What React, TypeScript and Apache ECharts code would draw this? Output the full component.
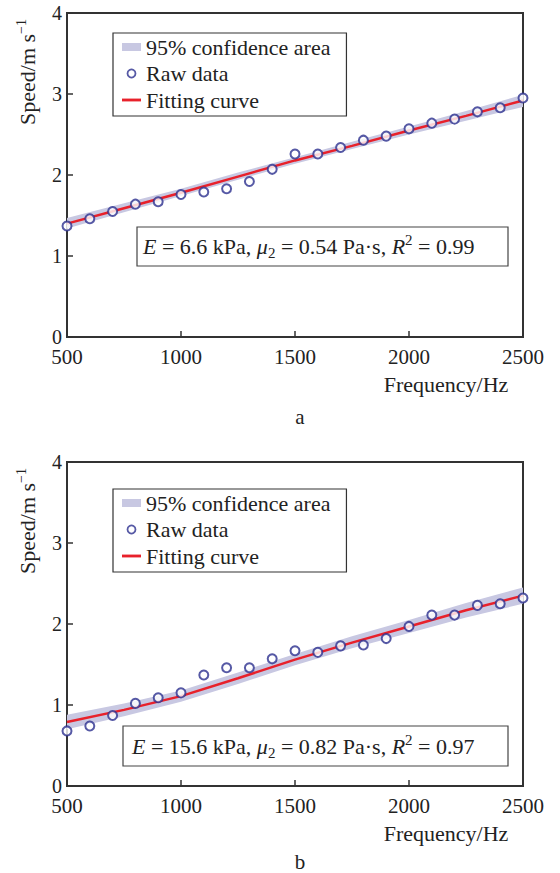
import React, { useEffect, useRef } from "react";
import * as echarts from "echarts";

// ---- data ----
const freqPoints = [500, 600, 700, 800, 900, 1000, 1100, 1200, 1300, 1400, 1500, 1600, 1700, 1800, 1900, 2000, 2100, 2200, 2300, 2400, 2500];
const rawA = [1.37, 1.46, 1.55, 1.64, 1.67, 1.76, 1.79, 1.83, 1.92, 2.07, 2.26, 2.26, 2.34, 2.43, 2.48, 2.57, 2.64, 2.69, 2.78, 2.83, 2.95];
const rawB = [0.68, 0.74, 0.87, 1.02, 1.09, 1.15, 1.37, 1.46, 1.46, 1.57, 1.67, 1.65, 1.73, 1.74, 1.82, 1.97, 2.11, 2.11, 2.23, 2.25, 2.32];

const fitFreq = [500, 750, 1000, 1250, 1500, 1750, 2000, 2250, 2500];
const fitA = [1.40, 1.59, 1.78, 1.98, 2.18, 2.36, 2.55, 2.73, 2.92];
const loA = [1.34, 1.54, 1.74, 1.94, 2.14, 2.32, 2.50, 2.67, 2.84];
const hiA = [1.47, 1.65, 1.83, 2.03, 2.22, 2.41, 2.60, 2.79, 2.99];
const fitB = [0.79, 0.94, 1.11, 1.33, 1.56, 1.77, 1.97, 2.17, 2.35];
const loB = [0.70, 0.86, 1.04, 1.26, 1.49, 1.70, 1.89, 2.08, 2.25];
const hiB = [0.88, 1.02, 1.18, 1.40, 1.63, 1.85, 2.05, 2.26, 2.45];

const names = ["95% confidence area", "Raw data", "Fitting curve"];
const annotA = { E: "6.6", mu: "0.54", R2: "0.99" };
const annotB = { E: "15.6", mu: "0.82", R2: "0.97" };
const panelLabels = ["a", "b"];

const FONT = '"Liberation Serif", "Times New Roman", serif';
const AXIS = "#333";
const TXT = "#222";
const BAND = "#c8c8e2";
const RED = "#e8212b";
const NAVY = "#2c2f8e";

export default function App() {
  const ref = useRef<HTMLDivElement>(null);
  useEffect(() => {
    document.body.style.margin = "0";
    const chart = echarts.init(ref.current!, null, { renderer: "svg" });

    const grids = [
      { left: 67, top: 13, width: 456, height: 324 },
      { left: 67, top: 462, width: 456, height: 324 },
    ];

    const mkX = (gi: number) => ({
      type: "value",
      gridIndex: gi,
      min: 500,
      max: 2500,
      interval: 500,
      axisLine: { show: true, lineStyle: { color: AXIS, width: 2 } },
      axisTick: { show: true, inside: true, length: 6, lineStyle: { color: AXIS, width: 1.5 } },
      axisLabel: { color: TXT, fontSize: 21, fontFamily: FONT, margin: 11, lineHeight: 18, formatter: (v: number) => String(v) },
      splitLine: { show: false },
    });
    const mkY = (gi: number) => ({
      type: "value",
      gridIndex: gi,
      min: 0,
      max: 4,
      interval: 1,
      axisLine: { show: true, lineStyle: { color: AXIS, width: 2 } },
      axisTick: { show: true, inside: true, length: 6, lineStyle: { color: AXIS, width: 1.5 } },
      axisLabel: { color: TXT, fontSize: 20, fontFamily: FONT, margin: 5, lineHeight: 16, formatter: (v: number) => String(v) },
      splitLine: { show: false },
    });

    const bandSeries = (gi: number, lo: number[], hi: number[]) => ({
      type: "custom",
      name: names[0],
      xAxisIndex: gi,
      yAxisIndex: gi,
      data: [[fitFreq[0], lo[0]]],
      itemStyle: { color: BAND },
      silent: true,
      z: 1,
      renderItem: (params: any, api: any) => {
        const pts: number[][] = [];
        for (let i = 0; i < fitFreq.length; i++) pts.push(api.coord([fitFreq[i], hi[i]]));
        for (let i = fitFreq.length - 1; i >= 0; i--) pts.push(api.coord([fitFreq[i], lo[i]]));
        return { type: "polygon", shape: { points: pts }, style: { fill: BAND, stroke: "none" } };
      },
    });
    const fitSeries = (gi: number, fit: number[]) => ({
      type: "line",
      name: names[2],
      xAxisIndex: gi,
      yAxisIndex: gi,
      data: fitFreq.map((f, i) => [f, fit[i]]),
      smooth: false,
      symbol: "none",
      showSymbol: false,
      lineStyle: { color: RED, width: 2.5 },
      itemStyle: { color: RED },
      z: 2,
    });
    const rawSeries = (gi: number, raw: number[]) => ({
      type: "scatter",
      name: names[1],
      xAxisIndex: gi,
      yAxisIndex: gi,
      data: freqPoints.map((f, i) => [f, raw[i]]),
      symbol: "circle",
      symbolSize: 9,
      itemStyle: { color: "#fff", borderColor: NAVY, borderWidth: 2 },
      z: 3,
    });

    const mkLegend = (top: number) => ({
      left: 113,
      top,
      orient: "vertical",
      itemWidth: 19,
      itemHeight: 8,
      itemGap: 4.5,
      padding: [3, 16, 5, 9],
      borderColor: "#333",
      borderWidth: 1.2,
      backgroundColor: "#fff",
      selectedMode: false,
      textStyle: { fontSize: 22, fontFamily: FONT, color: TXT, lineHeight: 22 },
      data: [
        { name: names[0], icon: "rect", itemStyle: { color: BAND, borderWidth: 0 } },
        { name: names[1], icon: "circle", itemStyle: { color: "#fff", borderColor: NAVY, borderWidth: 1.8 } },
        { name: names[2], icon: "path://M0,0H20V3H0Z", itemStyle: { color: RED, borderWidth: 0 } },
      ],
    });

    const annotText = (a: { E: string; mu: string; R2: string }) =>
      `{i|E}{n| = ${a.E} kPa, }{i|μ}{sub|2}{n| = ${a.mu} Pa·s, }{i|R}{sup|2}{n| = ${a.R2}}`;
    const annotRich = {
      n: { fontSize: 22, fontFamily: FONT, lineHeight: 28, fill: TXT },
      i: { fontSize: 22, fontFamily: FONT, fontStyle: "italic", lineHeight: 28, fill: TXT },
      sub: { fontSize: 15, fontFamily: FONT, lineHeight: 15, verticalAlign: "bottom", fill: TXT },
      sup: { fontSize: 15, fontFamily: FONT, lineHeight: 15, verticalAlign: "top", fill: TXT },
    };
    const yNameRich = {
      n: { fontSize: 22, fontFamily: FONT, lineHeight: 26, fill: TXT },
      sup: { fontSize: 14, fontFamily: FONT, lineHeight: 14, verticalAlign: "top", fill: TXT },
    };

    const annotBox = (x: number, y: number, w: number, h: number, tx: number, a: any) => [
      { type: "rect", shape: { x, y, width: w, height: h }, style: { fill: "#fff", stroke: "#444", lineWidth: 1.2 }, z: 10 },
      {
        type: "text",
        x: tx,
        y: y + h / 2,
        z: 11,
        style: { text: annotText(a), rich: annotRich, align: "left", verticalAlign: "middle" },
      },
    ];
    const axisNames = (yCenter: number, xNameY: number, labelY: number, label: string) => [
      {
        type: "text",
        x: 27,
        y: yCenter,
        rotation: Math.PI / 2,
        style: { text: "{n|Speed/m s}{sup|−1}", rich: yNameRich, align: "center", verticalAlign: "middle" },
      },
      {
        type: "text",
        x: 446,
        y: xNameY,
        style: { text: "Frequency/Hz", fontSize: 22, fontFamily: FONT, fill: TXT, align: "center", verticalAlign: "middle" },
      },
      {
        type: "text",
        x: 300,
        y: labelY,
        style: { text: label, fontSize: 21, fontFamily: FONT, fill: TXT, align: "center", verticalAlign: "middle" },
      },
    ];

    chart.setOption({
      animation: false,
      backgroundColor: "#fff",
      grid: grids.map((g) => ({ ...g, show: true, borderColor: AXIS, borderWidth: 2, backgroundColor: "transparent", containLabel: false, outerBoundsMode: "none" })),
      xAxis: [mkX(0), mkX(1)],
      yAxis: [mkY(0), mkY(1)],
      legend: [mkLegend(33), mkLegend(489)],
      series: [
        bandSeries(0, loA, hiA),
        fitSeries(0, fitA),
        rawSeries(0, rawA),
        bandSeries(1, loB, hiB),
        fitSeries(1, fitB),
        rawSeries(1, rawB),
      ],
      graphic: [
        ...annotBox(137, 227, 371, 39, 143, annotA),
        ...annotBox(123, 726, 385, 40, 132, annotB),
        ...axisNames(72, 384, 417, panelLabels[0]),
        ...axisNames(521, 833, 862, panelLabels[1]),
      ],
    });
    return () => chart.dispose();
  }, []);
  return <div ref={ref} style={{ position: "fixed", left: 0, top: 0, width: 560, height: 873 }} />;
}
